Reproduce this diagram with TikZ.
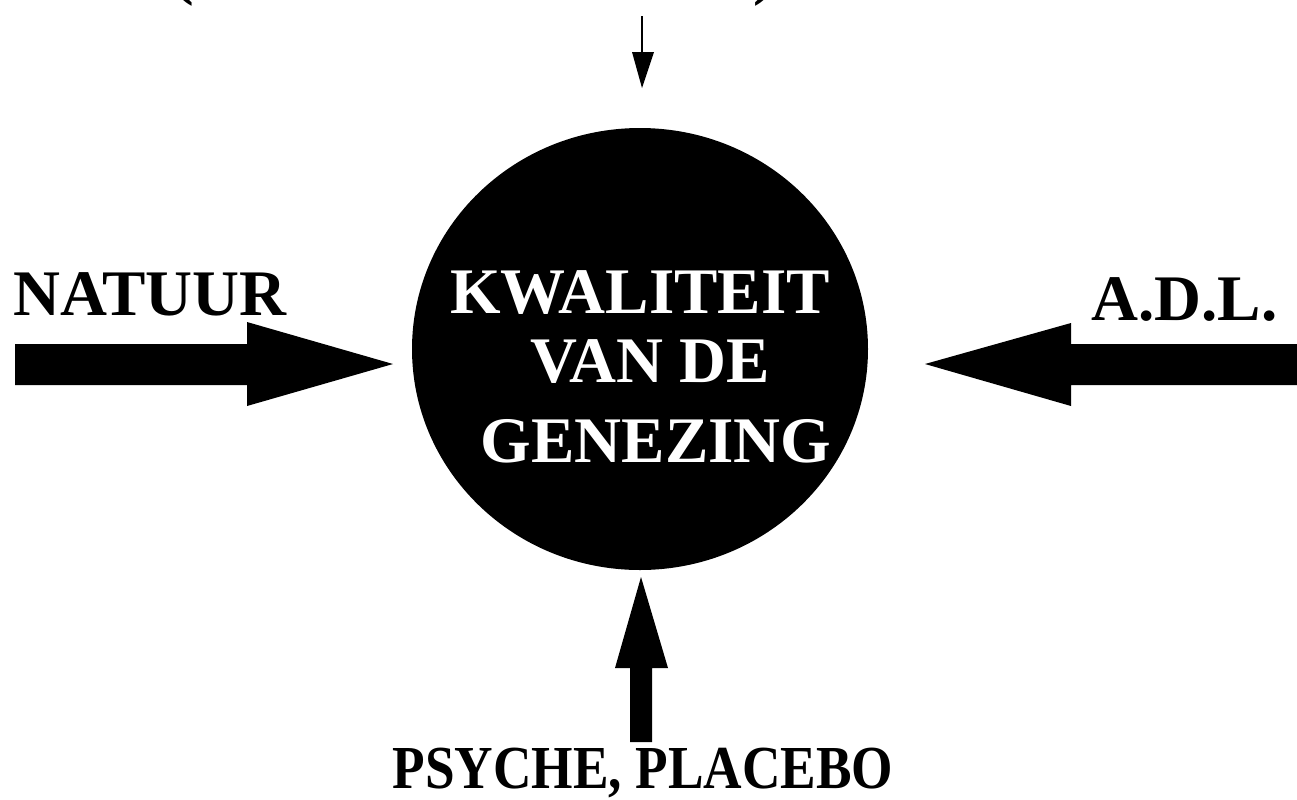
\documentclass[tikz,border=0pt]{standalone}
\usepackage{fontspec}
\setmainfont{Liberation Serif}
\usetikzlibrary{shapes.geometric}
\begin{document}
\begin{tikzpicture}[x=0.5pt, y=-0.5pt,
		lbl/.style={inner sep=0pt, font=\fontsize{32.5}{39}\selectfont\bfseries},
		blockarrow/.style={fill=black, draw=none}]
		\useasboundingbox (0, 0) rectangle (1297, 799);

		% centre
		\node[ellipse, fill=black, minimum width=228pt, minimum height=221pt, inner sep=0pt] (kwal) at (640, 349) {};
		\node[lbl, white, anchor=base] (l1) at (640, 313) {KWALITEIT};
		\node[lbl, white, anchor=base] (l2) at (650, 382) {VAN DE};
		\node[lbl, white, anchor=base] (l3) at (656, 462) {GENEZING};

		% labels
		\node[lbl, anchor=base west] (natuur) at (13, 315) {NATUUR};
		\node[lbl, anchor=base east] (adl) at (1278, 320) {A.D.L.};
		\node[lbl, anchor=base] (psyche) at (643, 788) {\scalebox{0.82}[0.94]{PSYCHE, PLACEBO}};
		\node[lbl, anchor=base west] (po) at (172, -8) {(};
		\node[lbl, anchor=base east] (pc) at (776, -8) {)};

		% left arrow
		\coordinate (la) at (15, 344);
		\coordinate (lb) at (247, 344);
		\coordinate (lc) at (247, 322);
		\coordinate (lt) at (393, 364);
		\coordinate (ld) at (247, 406);
		\coordinate (le) at (247, 385);
		\coordinate (lf) at (15, 385);
		\fill[blockarrow] (la) -- (lb) -- (lc) -- (lt) -- (ld) -- (le) -- (lf) -- cycle;

		% right arrow
		\coordinate (ra) at (1297, 344);
		\coordinate (rb) at (1071, 344);
		\coordinate (rc) at (1071, 323);
		\coordinate (rt) at (925, 364);
		\coordinate (rd) at (1071, 406);
		\coordinate (re) at (1071, 385);
		\coordinate (rf) at (1297, 385);
		\fill[blockarrow] (ra) -- (rb) -- (rc) -- (rt) -- (rd) -- (re) -- (rf) -- cycle;

		% bottom arrow
		\coordinate (ba) at (630, 742);
		\coordinate (bb) at (630, 668);
		\coordinate (bc) at (615, 668);
		\coordinate (bt) at (641, 577);
		\coordinate (bd) at (668, 668);
		\coordinate (be) at (652, 668);
		\coordinate (bf) at (652, 742);
		\fill[blockarrow] (ba) -- (bb) -- (bc) -- (bt) -- (bd) -- (be) -- (bf) -- cycle;

		% top arrow
		\coordinate (ta) at (642, 16);
		\coordinate (tb) at (642, 53);
		\coordinate (tc) at (632, 52);
		\coordinate (tt) at (642, 88);
		\coordinate (td) at (654, 52);
		\draw[line width=1.4pt] (ta) -- (tb);
		\fill[blockarrow] (tc) -- (tt) -- (td) -- cycle;
	\end{tikzpicture}
\end{document}
